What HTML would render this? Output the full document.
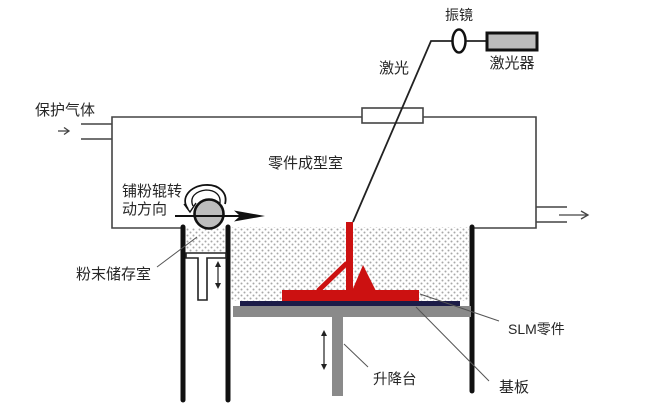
<!DOCTYPE html>
<html><head><meta charset="utf-8"><style>
html,body{margin:0;padding:0;background:#fff;}
svg{display:block;}
text{font-family:"Liberation Sans","Noto Sans CJK SC",sans-serif;fill:#262626;}
</style></head><body>
<svg width="652" height="408" viewBox="0 0 652 408" xmlns="http://www.w3.org/2000/svg">
<defs>
<pattern id="dots" patternUnits="userSpaceOnUse" width="6" height="6">
<circle cx="1.5" cy="1.5" r="1" fill="#a8a8a8"/>
<circle cx="4.5" cy="4.5" r="1" fill="#a8a8a8"/>
</pattern>
</defs>
<rect width="652" height="408" fill="#fff"/>

<!-- powder regions -->
<rect x="231" y="227" width="238" height="74" fill="url(#dots)"/>
<rect x="186" y="228" width="40" height="25" fill="url(#dots)"/>

<!-- chamber box -->
<polyline points="183,228 112,228 112,117 362,117" fill="none" stroke="#444" stroke-width="1.6"/>
<polyline points="423,117 536,117 536,228 472,228" fill="none" stroke="#444" stroke-width="1.6"/>
<rect x="362" y="108" width="61" height="15" fill="#fff" stroke="#444" stroke-width="1.6"/>

<!-- inlet -->
<line x1="81" y1="124" x2="112" y2="124" stroke="#444" stroke-width="1.5"/>
<line x1="81" y1="139" x2="112" y2="139" stroke="#444" stroke-width="1.5"/>
<line x1="58" y1="131" x2="69" y2="131" stroke="#444" stroke-width="1.3"/>
<polyline points="64,127.5 69,131 64,134.5" fill="none" stroke="#444" stroke-width="1.3"/>
<!-- outlet -->
<line x1="536" y1="207" x2="567" y2="207" stroke="#444" stroke-width="1.5"/>
<line x1="536" y1="222" x2="567" y2="222" stroke="#444" stroke-width="1.5"/>
<line x1="559" y1="215" x2="588" y2="215" stroke="#444" stroke-width="1.3"/>
<polyline points="581,211 588,215 581,219" fill="none" stroke="#444" stroke-width="1.3"/>

<!-- laser -->
<polyline points="353,222 431,41 452,41" fill="none" stroke="#222" stroke-width="1.8"/>
<ellipse cx="459" cy="41" rx="6.5" ry="11.5" fill="#fff" stroke="#111" stroke-width="2.5"/>
<line x1="466" y1="41" x2="486" y2="41" stroke="#222" stroke-width="1.8"/>
<rect x="487" y="33" width="50" height="17" fill="#bcbcbc" stroke="#111" stroke-width="3"/>

<!-- walls -->
<line x1="183" y1="227" x2="183" y2="400" stroke="#111" stroke-width="5" stroke-linecap="round"/>
<line x1="228" y1="227" x2="228" y2="400" stroke="#111" stroke-width="5" stroke-linecap="round"/>
<line x1="472" y1="227" x2="472" y2="391" stroke="#111" stroke-width="5" stroke-linecap="round"/>

<!-- storage piston T -->
<path d="M186,253 H226 V258 H207 V300 H198 V258 H186 Z" fill="#fff" stroke="#222" stroke-width="1.6"/>
<line x1="218" y1="264" x2="218" y2="286" stroke="#222" stroke-width="1.2"/>
<polygon points="218,261 215,267 221,267" fill="#222"/>
<polygon points="218,289 215,283 221,283" fill="#222"/>

<!-- build platform -->
<rect x="233" y="306" width="238" height="11" fill="#8a8a8a"/>
<rect x="332" y="317" width="11" height="79" fill="#8a8a8a"/>
<rect x="240" y="301" width="220" height="5" fill="#1c1c48"/>
<!-- red part -->
<rect x="282" y="290" width="137" height="11" fill="#cc1111"/>
<rect x="346" y="222" width="7" height="70" fill="#cc1111"/>
<line x1="318" y1="291" x2="347" y2="263" stroke="#cc1111" stroke-width="5"/>
<polygon points="352,291 363,265 376,291" fill="#cc1111"/>

<!-- lift arrow -->
<line x1="324" y1="334" x2="324" y2="366" stroke="#222" stroke-width="1.2"/>
<polygon points="324,330 321,336 327,336" fill="#222"/>
<polygon points="324,370 321,364 327,364" fill="#222"/>

<!-- roller -->
<path d="M188,209 C180,198 190,186 205,185 C219,184 228,193 225,204" fill="none" stroke="#111" stroke-width="1.8"/>
<path d="M193,206 C189,197 196,191 206,190 C215,190 221,195 220,203" fill="none" stroke="#111" stroke-width="1.3"/>
<polyline points="184,204 190,212 196,203" fill="none" stroke="#111" stroke-width="1.4"/>
<circle cx="209" cy="214" r="14.5" fill="#bdbdbd" stroke="#111" stroke-width="2.6"/>
<line x1="175" y1="216" x2="240" y2="216" stroke="#111" stroke-width="2"/>
<polygon points="234,210.5 265,216 234,221.5 240,216" fill="#111"/>

<!-- leaders -->
<line x1="157" y1="267" x2="197" y2="237" stroke="#555" stroke-width="1"/>
<line x1="344" y1="344" x2="368" y2="367" stroke="#555" stroke-width="1"/>
<line x1="420" y1="294" x2="499" y2="321" stroke="#555" stroke-width="1"/>
<line x1="416" y1="307" x2="489" y2="381" stroke="#555" stroke-width="1"/>

<!-- labels -->
<text x="35" y="115" font-size="15">保护气体</text>
<text x="268" y="168" font-size="15">零件成型室</text>
<text x="122" y="196" font-size="15">铺粉辊转</text>
<text x="122" y="214" font-size="15">动方向</text>
<text x="459" y="20" font-size="14" text-anchor="middle">振镜</text>
<text x="394" y="73" font-size="15" text-anchor="middle">激光</text>
<text x="512" y="68" font-size="15" text-anchor="middle">激光器</text>
<text x="76" y="279" font-size="15">粉末储存室</text>
<text x="508" y="334" font-size="14">SLM零件</text>
<text x="373" y="384" font-size="14.5">升降台</text>
<text x="499" y="392" font-size="15">基板</text>
</svg>
</body></html>
